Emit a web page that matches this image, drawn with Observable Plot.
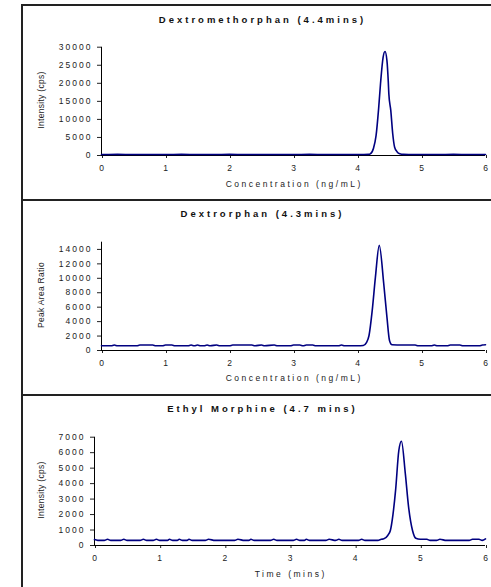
<!DOCTYPE html>
<html>
<head>
<meta charset="utf-8">
<script src="https://cdn.jsdelivr.net/npm/d3@7"></script>
<script src="https://cdn.jsdelivr.net/npm/@observablehq/plot@0.6"></script>
<style>
  html, body { margin: 0; padding: 0; background: #fff; width: 491px; height: 587px; overflow: hidden; position: relative; }
  body { font-family: "Liberation Sans", Arial, sans-serif; color: #222; }
  .panel { position: absolute; left: 21px; width: 480px; border: 2px solid #222; box-sizing: border-box; background: #fff; }
  .title { position: absolute; left: 21px; width: 480px; text-align: center; font-weight: bold; font-size: 9.5px; letter-spacing: 3px; line-height: 12px; padding-left: 3px; box-sizing: border-box; white-space: nowrap; color: #111; }
  .ylab { position: absolute; transform: translate(-50%, -50%) rotate(-90deg); font-size: 8.5px; letter-spacing: 0.3px; white-space: nowrap; line-height: 10px; color: #222; }
  .xlab { position: absolute; transform: translate(-50%, -50%); font-size: 8.5px; letter-spacing: 2.5px; white-space: nowrap; line-height: 10px; padding-left: 2.5px; color: #222; }
  .chart { position: absolute; left: 0; }
</style>
</head>
<body>
<div id="root"></div>
<script>
// ---------- data ----------
const xTicks = [0, 1, 2, 3, 4, 5, 6];

const titles = ["Dextromethorphan (4.4mins)", "Dextrorphan (4.3mins)", "Ethyl Morphine (4.7 mins)"];
const yLabels = ["Intensity (cps)", "Peak Area Ratio", "Intensity (cps)"];
const xLabels = ["Concentration (ng/mL)", "Concentration (ng/mL)", "Time (mins)"];

const yTicks1 = [0, 5000, 10000, 15000, 20000, 25000, 30000];
const yTicks2 = [0, 2000, 4000, 6000, 8000, 10000, 12000, 14000];
const yTicks3 = [0, 1000, 2000, 3000, 4000, 5000, 6000, 7000];

// Dextromethorphan
const time1 = [0, 0.25, 0.5, 0.75, 1.0, 1.25, 1.5, 1.75, 2.0, 2.25, 2.5, 2.75, 3.0, 3.25, 3.5, 3.75, 4.0, 4.1, 4.17, 4.2, 4.25, 4.29, 4.33, 4.36, 4.40, 4.43, 4.46, 4.48, 4.49, 4.52, 4.55, 4.58, 4.62, 4.66, 4.72, 4.8, 5.0, 5.25, 5.5, 5.75, 6.0];
const value1 = [280, 300, 260, 290, 270, 300, 280, 260, 300, 270, 290, 260, 280, 300, 270, 290, 280, 270, 300, 450, 2000, 5500, 13000, 20000, 27200, 28800, 26300, 20800, 17000, 12500, 6100, 2300, 1000, 500, 300, 280, 290, 270, 300, 280, 290];

// Dextrorphan
const time2 = [0, 0.15, 0.2, 0.25, 0.55, 0.6, 0.7, 0.8, 0.85, 0.95, 1.0, 1.1, 1.15, 1.35, 1.4, 1.45, 1.5, 1.55, 1.6, 1.65, 1.7, 1.8, 1.85, 2.0, 2.05, 2.35, 2.4, 2.5, 2.55, 2.7, 2.75, 2.95, 3.0, 3.1, 3.15, 3.2, 3.3, 3.35, 3.7, 3.75, 3.8, 4.0, 4.09, 4.14, 4.18, 4.23, 4.28, 4.34, 4.41, 4.46, 4.50, 4.54, 4.7, 4.75, 4.9, 4.95, 5.15, 5.2, 5.25, 5.4, 5.45, 5.6, 5.65, 5.9, 5.95, 6.0];
const value2 = [650, 650, 760, 650, 650, 760, 760, 760, 650, 650, 760, 760, 650, 650, 760, 650, 760, 650, 650, 760, 650, 760, 650, 650, 760, 760, 650, 760, 650, 760, 650, 650, 760, 760, 650, 760, 760, 650, 650, 760, 650, 650, 690, 1100, 2080, 5550, 10170, 14560, 9250, 4620, 1390, 790, 760, 760, 760, 650, 650, 760, 650, 650, 760, 760, 650, 650, 760, 800];

// Ethyl Morphine
const time3 = [0, 0.05, 0.15, 0.2, 0.25, 0.4, 0.45, 0.5, 0.7, 0.75, 0.8, 0.9, 0.95, 1.0, 1.12, 1.15, 1.2, 1.27, 1.3, 1.35, 1.42, 1.45, 1.5, 1.7, 1.75, 1.85, 2.15, 2.2, 2.3, 2.37, 2.4, 2.45, 2.7, 2.75, 2.8, 3.05, 3.1, 3.15, 3.22, 3.25, 3.3, 3.55, 3.6, 3.7, 3.75, 3.8, 4.05, 4.1, 4.15, 4.35, 4.4, 4.44, 4.5, 4.54, 4.58, 4.62, 4.67, 4.71, 4.77, 4.82, 4.88, 4.93, 5.0, 5.1, 5.15, 5.25, 5.3, 5.4, 5.75, 5.8, 5.9, 5.95, 6.0];
const value3 = [380, 330, 330, 400, 330, 330, 400, 330, 330, 400, 330, 330, 400, 330, 330, 400, 330, 330, 400, 330, 330, 400, 330, 330, 400, 330, 330, 400, 330, 330, 400, 330, 330, 400, 330, 330, 400, 330, 330, 400, 330, 330, 400, 330, 400, 330, 330, 400, 330, 330, 400, 430, 650, 970, 2000, 3560, 6140, 6740, 4630, 2480, 970, 470, 400, 400, 330, 330, 400, 330, 330, 400, 400, 330, 430];

// ---------- layout ----------
const panels = [
  {boxTop: 4, boxH: 197, svgTop: 0, svgH: 200, mTop: 46.7, mBottom: 45, mLeft: 101, yDomain: [0, 30000], yTicks: yTicks1, time: time1, value: value1, titleY: 20, ylabY: 100, xlabY: 184},
  {boxTop: 199, boxH: 197, svgTop: 200, svgH: 195, mTop: 41.7, mBottom: 45, mLeft: 101, yDomain: [0, 15000], yTicks: yTicks2, time: time2, value: value2, titleY: 214, ylabY: 295, xlabY: 378},
  {boxTop: 394, boxH: 200, svgTop: 395, svgH: 192, mTop: 41.7, mBottom: 42, mLeft: 94, yDomain: [0, 7000], yTicks: yTicks3, time: time3, value: value3, titleY: 409, ylabY: 490, xlabY: 574}
];

const root = document.getElementById("root");
const font = '"Liberation Sans", Arial, sans-serif';

panels.forEach((p, i) => {
  const box = document.createElement("div");
  box.className = "panel";
  box.style.top = p.boxTop + "px";
  box.style.height = p.boxH + "px";
  root.appendChild(box);

  const data = p.time.map((t, k) => ({t, v: p.value[k]}));
  const chart = Plot.plot({
    width: 491,
    height: p.svgH,
    marginLeft: p.mLeft,
    marginRight: 6,
    marginTop: p.mTop,
    marginBottom: p.mBottom,
    style: {fontFamily: font, fontSize: "8.5px", color: "#222", background: "transparent", overflow: "visible", letterSpacing: "2px"},
    x: {domain: [0, 6]},
    y: {domain: p.yDomain},
    marks: [
      Plot.axisX(xTicks, {tickSize: 3, tickPadding: 6, label: null, tickFormat: d => String(d), dx: 1}),
      Plot.axisY(p.yTicks, {tickSize: 4, tickPadding: 5, label: null, tickFormat: d => String(d)}),
      Plot.ruleX([0], {y1: p.yDomain[0], y2: p.yDomain[1], stroke: "#000"}),
      Plot.ruleY([0], {stroke: "#000"}),
      Plot.line(data, {x: "t", y: "v", stroke: "#000080", strokeWidth: 1.6, curve: "monotone-x"})
    ]
  });
  chart.classList.add("chart");
  chart.style.top = p.svgTop + "px";
  root.appendChild(chart);

  const title = document.createElement("div");
  title.className = "title";
  title.textContent = titles[i];
  title.style.top = (p.titleY - 6) + "px";
  root.appendChild(title);

  const yl = document.createElement("div");
  yl.className = "ylab";
  yl.textContent = yLabels[i];
  yl.style.left = "41px";
  yl.style.top = p.ylabY + "px";
  root.appendChild(yl);

  const xl = document.createElement("div");
  xl.className = "xlab";
  xl.textContent = xLabels[i];
  xl.style.left = ((p.mLeft + 485) / 2) + "px";
  xl.style.top = p.xlabY + "px";
  root.appendChild(xl);
});
</script>
</body>
</html>
